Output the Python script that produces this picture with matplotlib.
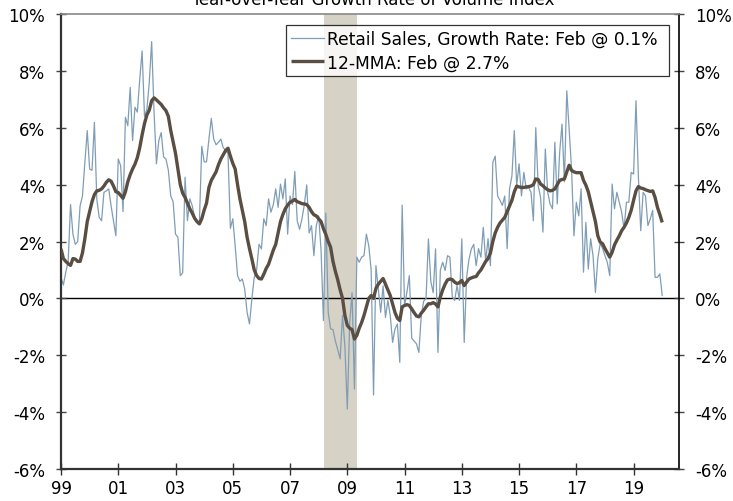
import matplotlib
matplotlib.use("Agg")
import matplotlib.pyplot as plt
import numpy as np

# Monthly observations, Jan 1999 onward
start_year = 1999
retail_growth = [
    0.74, 0.47, 0.92, 1.3, 3.3, 2.26, 1.9, 2.0, 3.25, 3.6, 4.78, 5.9,
    4.55, 4.5, 6.19, 3.5, 2.85, 2.73, 3.73, 3.78, 3.85, 3.25, 2.73, 2.2,
    4.9, 4.67, 3.05, 6.37, 6.07, 7.42, 5.55, 6.72, 6.55, 7.7, 8.7, 6.4,
    6.65, 7.6, 9.03, 6.55, 4.73, 5.55, 5.83, 4.97, 4.9, 4.5, 3.6, 3.4,
    2.26, 2.15, 0.8, 0.9, 4.26, 2.73, 3.5, 3.26, 2.85, 2.73, 2.67, 5.35,
    4.8, 4.8, 5.6, 6.33, 5.6, 5.4, 5.49, 5.6, 5.3, 5.2, 5.1, 2.46,
    2.8, 1.85, 0.8, 0.6, 0.68, 0.33, -0.49, -0.9, -0.02, 0.74, 1.0, 1.9,
    1.74, 2.8, 2.56, 3.5, 3.03, 3.3, 3.85, 3.2, 4.02, 3.5, 4.2, 2.26,
    3.6, 3.3, 4.46, 2.73, 2.43, 2.8, 3.3, 3.99, 2.3, 2.56, 1.5, 2.56,
    2.9, 1.7, -0.78, 3.0, -0.49, -1.07, -1.1, -1.5, -1.8, -2.13, -0.6, -1.7,
    -3.89, -0.85, 0.2, -3.19, 1.45, 1.27, 1.45, 1.5, 2.26, 1.85, 1.0, -3.4,
    1.15, 0.33, -0.49, 0.44, -0.67, -0.07, -0.6, -1.55, -1.07, -0.9, -2.25, 3.28,
    -0.25, 0.22, 0.8, -1.4, -1.5, -1.6, -1.9, -0.6, -0.1, 0.0, 2.09, 0.6,
    0.2, 1.74, -1.9, 1.0, 1.27, 0.98, 1.5, 1.45, 0.06, -0.07, 0.45, -0.07,
    2.09, -1.55, 0.73, 1.37, 1.74, 1.9, 1.15, 1.75, 1.45, 2.5, 1.3, 2.1,
    1.15, 4.79, 5.0, 3.6, 3.45, 3.27, 3.6, 1.75, 3.85, 4.3, 5.9, 3.96,
    4.73, 3.6, 4.43, 3.85, 3.9, 3.73, 2.73, 6.0, 3.97, 3.56, 2.33, 5.25,
    3.73, 3.32, 3.15, 5.49, 3.32, 5.13, 6.13, 4.1, 7.3, 5.95, 4.55, 2.2,
    3.38, 2.9, 3.85, 0.92, 2.67, 1.03, 2.1, 1.5, 0.21, 1.4, 1.93, 1.76,
    1.5, 1.26, 0.8, 4.02, 3.15, 3.73, 3.38, 3.03, 2.45, 3.38, 3.38, 4.43,
    4.37, 6.95, 4.3, 2.38, 3.73, 3.6, 2.56, 2.8, 3.09, 0.74, 0.74, 0.86, 0.1,
]
mma12 = [
    1.74, 1.4, 1.3, 1.22, 1.16, 1.4, 1.38, 1.3, 1.3, 1.6, 2.1, 2.7,
    3.05, 3.4, 3.65, 3.78, 3.8, 3.85, 3.95, 4.08, 4.17, 4.12, 3.95, 3.75,
    3.72, 3.62, 3.52, 3.75, 4.1, 4.35, 4.55, 4.72, 4.95, 5.3, 5.75, 6.15,
    6.45, 6.62, 6.95, 7.05, 6.98, 6.9, 6.82, 6.7, 6.6, 6.4, 5.9, 5.5,
    5.1, 4.55, 4.0, 3.7, 3.55, 3.35, 3.15, 3.0, 2.82, 2.7, 2.62, 2.8,
    3.1, 3.35, 3.9, 4.15, 4.3, 4.45, 4.7, 4.9, 5.05, 5.2, 5.28, 5.0,
    4.75, 4.55, 4.0, 3.5, 3.1, 2.7, 2.15, 1.75, 1.39, 1.0, 0.8, 0.7,
    0.68, 0.85, 1.05, 1.2, 1.45, 1.7, 1.9, 2.3, 2.7, 2.95, 3.15, 3.28,
    3.38, 3.42, 3.48, 3.4, 3.37, 3.33, 3.32, 3.3, 3.2, 3.05, 2.94, 2.9,
    2.8, 2.7, 2.45, 2.25, 2.0, 1.8, 1.3, 0.95, 0.65, 0.3, 0.0, -0.6,
    -0.95, -1.05, -1.1, -1.43, -1.3, -1.05, -0.85, -0.6, -0.3, 0.0, 0.1, 0.0,
    0.35, 0.5, 0.6, 0.7, 0.5, 0.3, 0.1, -0.2, -0.5, -0.7, -0.78, -0.3,
    -0.25, -0.22, -0.25, -0.37, -0.5, -0.62, -0.65, -0.52, -0.42, -0.3, -0.19, -0.19,
    -0.15, -0.2, -0.3, 0.05, 0.3, 0.5, 0.65, 0.68, 0.66, 0.57, 0.52, 0.55,
    0.63, 0.45, 0.57, 0.68, 0.72, 0.75, 0.77, 0.9, 1.0, 1.15, 1.3, 1.4,
    1.6, 2.0, 2.3, 2.5, 2.65, 2.75, 2.85, 3.05, 3.25, 3.45, 3.75, 3.95,
    3.92, 3.9, 3.9, 3.92, 3.93, 3.95, 4.0, 4.2, 4.18, 4.02, 3.96, 3.88,
    3.82, 3.78, 3.8, 3.85, 4.0, 4.15, 4.18, 4.2, 4.45, 4.68, 4.5, 4.45,
    4.42, 4.42, 4.42, 4.15, 3.98, 3.75, 3.4, 3.05, 2.7, 2.2, 1.98, 1.92,
    1.75, 1.6, 1.45, 1.62, 1.88, 2.05, 2.2, 2.38, 2.5, 2.65, 2.85, 3.1,
    3.45, 3.78, 3.93, 3.88, 3.86, 3.82, 3.79, 3.76, 3.78, 3.55, 3.2, 2.95, 2.67,
]
recession = (2008.19, 2009.33)
tick_years = [1999, 2001, 2003, 2005, 2007, 2009, 2011, 2013, 2015, 2017, 2019]
tick_labels = ["99", "01", "03", "05", "07", "09", "11", "13", "15", "17", "19"]
y_ticks = [-6, -4, -2, 0, 2, 4, 6, 8, 10]
title = "Year-over-Year Growth Rate of Volume Index"
label_raw = "Retail Sales, Growth Rate: Feb @ 0.1%"
label_mma = "12-MMA: Feb @ 2.7%"

x_raw = start_year + np.arange(len(retail_growth)) / 12.0
x_mma = start_year + np.arange(len(mma12)) / 12.0

plt.rcParams["font.family"] = ["DejaVu Sans"]
fig = plt.figure(figsize=(7.33, 5.02), dpi=100)
ax = fig.add_axes([61 / 733, 32 / 502, 618 / 733, 455 / 502])

ax.axvspan(recession[0], recession[1], color="#d6d2c5", lw=0, zorder=0)
ax.axhline(0, color="black", lw=1.0, zorder=1)
ax.plot(x_raw, retail_growth, color="#7f9db6", lw=0.9, zorder=2, label=label_raw)
ax.plot(x_mma, mma12, color="#5a4d42", lw=2.4, zorder=3, label=label_mma,
        solid_capstyle="butt")

ax.set_xlim(1999.0, 2020.586)
ax.set_ylim(-6, 10)
ax.set_xticks(tick_years)
ax.set_xticklabels(tick_labels)
ax.set_yticks(y_ticks)
ax.set_yticklabels([f"{v}%" for v in y_ticks])

ax.tick_params(axis="y", which="both", left=True, right=True, labelleft=True,
               labelright=True, direction="inout", length=7, width=1.0,
               color="#444444", labelsize=12, pad=8)
ax.tick_params(axis="x", direction="inout", length=8, width=1.0,
               color="#333333", labelsize=12, pad=3)

for side in ["left", "bottom"]:
    ax.spines[side].set_color("#333333")
    ax.spines[side].set_linewidth(1.6)
ax.spines["right"].set_color("black")
ax.spines["right"].set_linewidth(1.2)
ax.spines["top"].set_color("#888888")
ax.spines["top"].set_linewidth(1.2)

leg_x0 = (286 - 61) / 618
leg_w = (669 - 286) / 618
leg_y1 = (470 - 26) / 455
leg_h = (78 - 26) / 455
leg = ax.legend(loc="upper left", bbox_to_anchor=(leg_x0, leg_y1 - leg_h, leg_w, leg_h),
                mode="expand", borderaxespad=0, fontsize=12.3, frameon=True,
                fancybox=False, edgecolor="black", handlelength=1.9,
                handletextpad=0.2, labelspacing=0.3, borderpad=0.3)
leg.get_frame().set_linewidth(0.9)

fig.text(0.509, 1 - 5 / 502, title, ha="center", va="baseline", fontsize=12)

fig.savefig("out.png", dpi=100)
